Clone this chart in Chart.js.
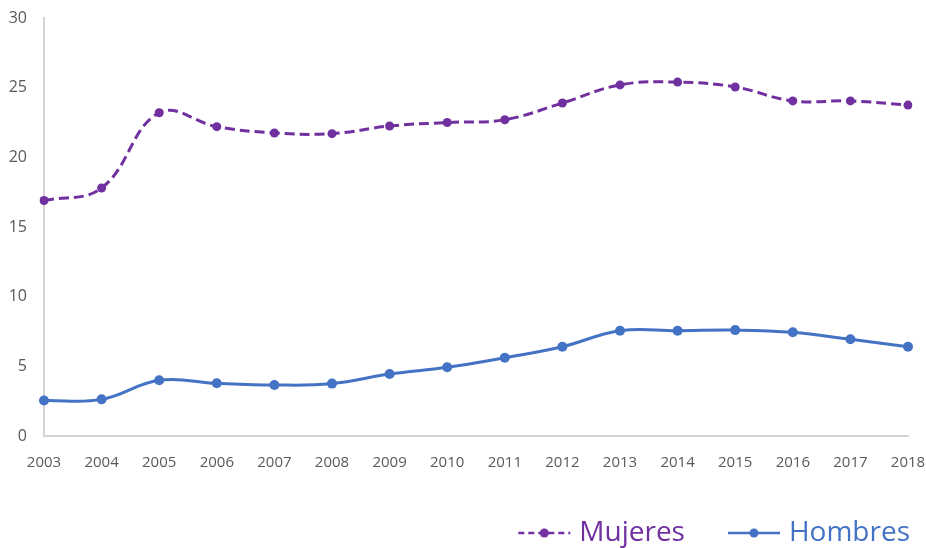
<!doctype html>
<html lang="es">
    <head>
        <meta charset="UTF-8" />
        <title>Mujeres y Hombres 2003-2018</title>
        <script src="https://cdn.jsdelivr.net/npm/chart.js"></script>
        <style>
            body { margin: 0; background: #fff; }
            #wrap { width: 926px; height: 548px; }
        </style>
    </head>
    <body>
        <div id="wrap"><canvas id="myChart" width="926" height="548"></canvas></div>
        <script>
            var years = ["2003", "2004", "2005", "2006", "2007", "2008", "2009", "2010", "2011", "2012", "2013", "2014", "2015", "2016", "2017", "2018"];
            var mujeres = [16.9, 17.8, 23.2, 22.2, 21.75, 21.7, 22.25, 22.5, 22.7, 23.9, 25.2, 25.4, 25.05, 24.05, 24.05, 23.75];
            var hombres = [2.55, 2.63, 4.0, 3.78, 3.66, 3.76, 4.45, 4.93, 5.62, 6.41, 7.56, 7.56, 7.6, 7.44, 6.94, 6.41];
            var yTicks = [0, 5, 10, 15, 20, 25, 30];

            var purple = "#7030a0";
            var blue = "#4472c4";

            // legend symbol: line with a dot, sitting in the right part of the image
            // so there is a wider gap before it and a small one after it
            function legendSymbol(color, dashed) {
                var c = document.createElement("canvas");
                c.width = 88;
                c.height = 12;
                var g = c.getContext("2d");
                g.strokeStyle = color;
                g.lineWidth = 2.5;
                if (dashed) g.setLineDash([6, 4]);
                g.beginPath();
                g.moveTo(35, 6);
                g.lineTo(87, 6);
                g.stroke();
                g.fillStyle = color;
                g.beginPath();
                g.arc(61, 6, 4.5, 0, Math.PI * 2);
                g.fill();
                return c;
            }

            var ctx = document.getElementById("myChart").getContext("2d");
            var chart = new Chart(ctx, {
                type: "line",
                data: {
                    labels: years,
                    datasets: [
                        {
                            label: "Mujeres",
                            data: mujeres,
                            borderColor: purple,
                            backgroundColor: purple,
                            borderWidth: 3,
                            borderDash: [10, 5],
                            pointRadius: 4.5,
                            pointBorderWidth: 0,
                            tension: 0.4,
                            fill: false
                        },
                        {
                            label: "Hombres",
                            data: hombres,
                            borderColor: blue,
                            backgroundColor: blue,
                            borderWidth: 3,
                            pointRadius: 5,
                            pointBorderWidth: 0,
                            tension: 0.4,
                            fill: false
                        }
                    ]
                },
                options: {
                    responsive: false,
                    animation: false,
                    layout: { padding: { left: 4, right: 2, top: 0, bottom: 0 } },
                    plugins: {
                        tooltip: { enabled: false },
                        legend: {
                            position: "bottom",
                            align: "end",
                            maxHeight: 43,
                            labels: {
                                usePointStyle: true,
                                pointStyleWidth: 76,
                                padding: 14,
                                font: { family: "'Open Sans'", size: 28 },
                                generateLabels: function (chart) {
                                    return chart.data.datasets.map(function (ds, i) {
                                        return {
                                            text: ds.label,
                                            fontColor: ds.borderColor,
                                            pointStyle: legendSymbol(ds.borderColor, i === 0),
                                            datasetIndex: i,
                                            lineWidth: 0,
                                            hidden: false
                                        };
                                    });
                                }
                            }
                        }
                    },
                    scales: {
                        x: {
                            offset: false,
                            afterFit: function (axis) {
                                axis.height = 69;
                                axis.paddingLeft = 0;
                                axis.paddingRight = 18;
                            },
                            grid: { display: false, drawTicks: false },
                            border: { display: true, color: "#d4d4d4", width: 2 },
                            ticks: {
                                color: "#595959",
                                padding: 18,
                                maxRotation: 0,
                                autoSkip: false,
                                font: { family: "'Open Sans'", size: 15 }
                            }
                        },
                        y: {
                            min: 0,
                            max: 30,
                            afterBuildTicks: function (axis) {
                                axis.ticks = yTicks.map(function (v) { return { value: v }; });
                            },
                            afterFit: function (axis) {
                                axis.width = 40;
                                axis.paddingTop = 18;
                                axis.paddingBottom = 10;
                            },
                            grid: { display: false, drawTicks: false },
                            border: { display: true, color: "#d4d4d4", width: 2 },
                            ticks: {
                                color: "#595959",
                                padding: 17,
                                font: { family: "'Open Sans'", size: 16 }
                            }
                        }
                    }
                }
            });
        </script>
    </body>
</html>
